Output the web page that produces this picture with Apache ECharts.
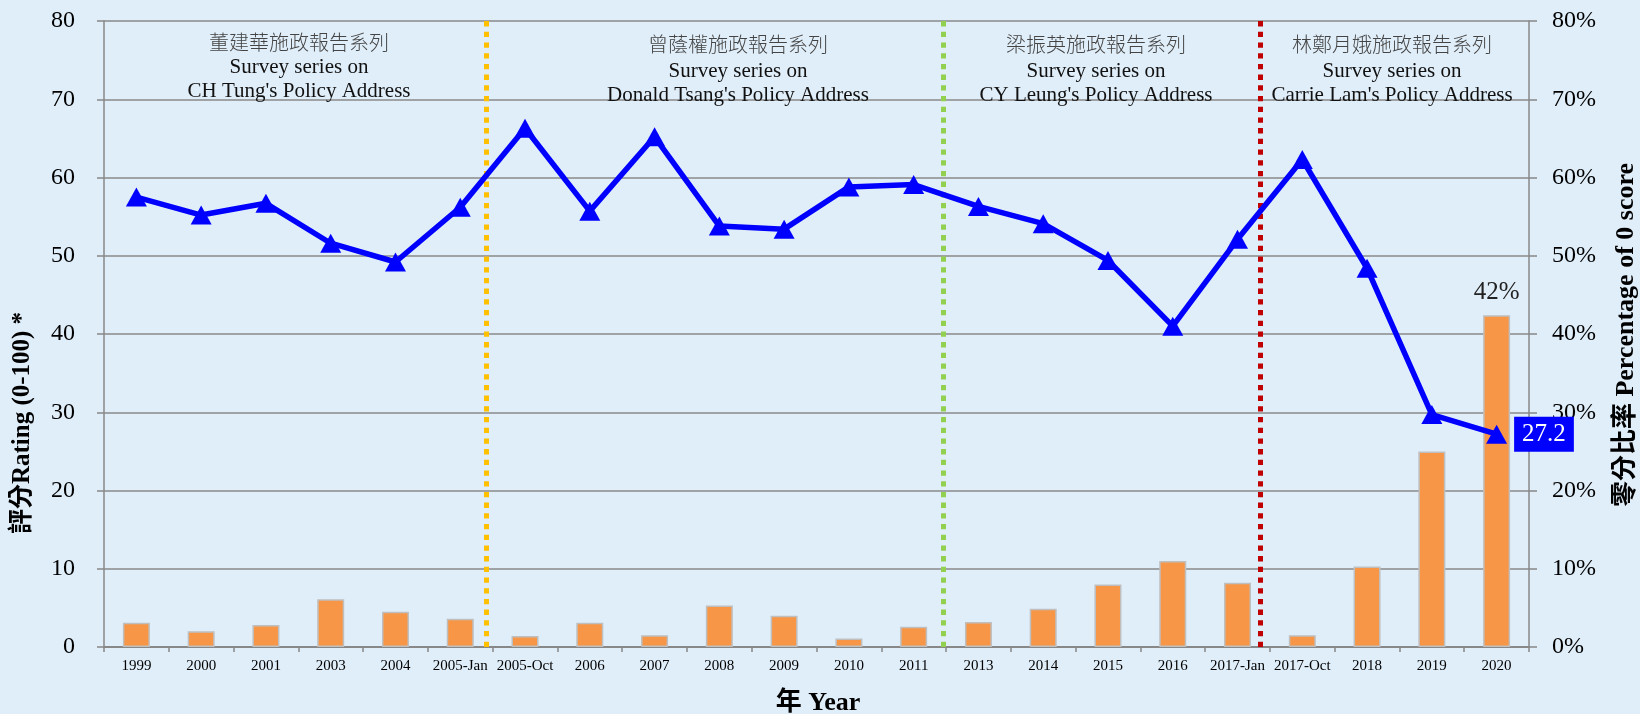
<!DOCTYPE html>
<html>
<head>
<meta charset="utf-8">
<script src="https://cdn.jsdelivr.net/npm/echarts@6/dist/echarts.min.js"></script>
<style>
html,body{margin:0;padding:0;background:#E0EEF9;}
#chart{width:1640px;height:714px;}
</style>
</head>
<body>
<div id="chart"></div>
<script>
const categories = ['1999','2000','2001','2003','2004','2005-Jan','2005-Oct','2006','2007','2008','2009','2010','2011','2013','2014','2015','2016','2017-Jan','2017-Oct','2018','2019','2020'];
const ratings = [57.5,55.2,56.7,51.6,49.2,56.2,66.3,55.7,65.2,53.8,53.4,58.8,59.1,56.3,54.1,49.4,41.0,52.1,62.3,48.4,29.7,27.2];
const zeroScorePct = [3.1,2.0,2.8,6.1,4.5,3.6,1.4,3.1,1.5,5.3,4.0,1.1,2.6,3.2,4.9,8.0,11.0,8.2,1.5,10.3,25.0,42.4];
const leftTicks = [0,10,20,30,40,50,60,70,80];
const rightTicks = ['0%','10%','20%','30%','40%','50%','60%','70%','80%'];
const seriesTitlesZh = ['董建華施政報告系列','曾蔭權施政報告系列','梁振英施政報告系列','林鄭月娥施政報告系列'];
const seriesTitlesEn = ["CH Tung's Policy Address","Donald Tsang's Policy Address","CY Leung's Policy Address","Carrie Lam's Policy Address"];
const dividerPositions = [5.9, 12.95, 17.85];
const dividerColors = ['#FFC000','#92D050','#C00000'];

const FONT = "'Liberation Serif','Times New Roman','Noto Sans CJK TC',serif";
const chart = echarts.init(document.getElementById('chart'));

const headerX = [299, 738, 1096, 1392];
const headerZhY = [45, 47, 47, 47];
const headerEnY = [79.5, 83, 83, 83];
const graphics = [];
seriesTitlesZh.forEach((zh, i) => {
  graphics.push({
    type: 'text', x: headerX[i], y: headerZhY[i], z: 50,
    style: {text: zh, font: "300 20px " + FONT, fill: '#444444', align: 'center', verticalAlign: 'middle'}
  });
  graphics.push({
    type: 'text', x: headerX[i], y: headerEnY[i], z: 50,
    style: {text: 'Survey series on\n' + seriesTitlesEn[i], font: "21px " + FONT, lineHeight: 24,
      fill: '#111111', align: 'center', verticalAlign: 'middle'}
  });
});
graphics.push({
  type: 'text', x: 23, y: 423, rotation: Math.PI/2, z: 50,
  style: {text: '評分Rating (0-100) *', font: "bold 25px " + FONT, fill: '#000', align: 'center', verticalAlign: 'middle'}
});
graphics.push({
  type: 'text', x: 1626, y: 335, rotation: Math.PI/2, z: 50,
  style: {text: '零分比率 Percentage of 0 score', font: "bold 26px " + FONT, fill: '#000', align: 'center', verticalAlign: 'middle'}
});
graphics.push({
  type: 'text', x: 818, y: 703, z: 50,
  style: {text: '年 Year', font: "bold 26px " + FONT, fill: '#000', align: 'center', verticalAlign: 'middle'}
});

const option = {
  backgroundColor: '#E0EEF9',
  animation: false,
  textStyle: {fontFamily: FONT},
  grid: {left: 104, right: 111, top: 21, bottom: 67, containLabel: false},
  xAxis: [{
    type: 'category', data: categories,
    axisLine: {show: true, lineStyle: {color: '#888888', width: 2}},
    axisTick: {show: true, length: 5, lineStyle: {color: '#888888', width: 1.5}},
    axisLabel: {fontFamily: FONT, fontSize: 15, color: '#000', margin: 12, interval: 0},
    splitLine: {show: false}
  }, {
    type: 'value', min: 0, max: categories.length, show: false,
    splitLine: {show: false}
  }],
  yAxis: [{
    type: 'value', min: 0, max: 80, interval: 10,
    axisLine: {show: true, lineStyle: {color: '#888888', width: 1.5}},
    axisTick: {show: true, length: 7, lineStyle: {color: '#888888', width: 1.5}},
    axisLabel: {fontFamily: FONT, fontSize: 24, color: '#000', margin: 29,
      formatter: v => String(leftTicks[Math.round(v/10)])},
    splitLine: {show: true, lineStyle: {color: '#8A8A8A', width: 1.5}}
  }, {
    type: 'value', min: 0, max: 80, interval: 10, position: 'right',
    axisLine: {show: true, lineStyle: {color: '#888888', width: 1.5}},
    axisTick: {show: true, length: 8, lineStyle: {color: '#888888', width: 1.5}},
    axisLabel: {fontFamily: FONT, fontSize: 24, color: '#000', margin: 23,
      formatter: v => rightTicks[Math.round(v/10)]},
    splitLine: {show: false}
  }],
  graphic: graphics,
  series: [{
    name: '零分比率', type: 'bar', xAxisIndex: 0, yAxisIndex: 1, z: 2,
    barWidth: 27,
    data: zeroScorePct.map((v, i) => i === zeroScorePct.length - 1 ? {
      value: v,
      label: {show: true, position: 'top', distance: 10, fontFamily: FONT, fontSize: 25, color: '#222',
        formatter: p => Math.round(p.value) + '%'}
    } : v),
    itemStyle: {color: '#F79646', borderColor: '#BFBFBF', borderWidth: 1.5}
  }, {
    name: '評分', type: 'line', xAxisIndex: 0, yAxisIndex: 0, z: 5,
    data: ratings.map((v, i) => i === ratings.length - 1 ? {
      value: v,
      label: {show: true, position: 'right', distance: 7, fontFamily: FONT, fontSize: 25,
        color: '#fff', backgroundColor: '#0000FF', padding: [6, 8, 4, 8],
        formatter: p => p.value.toFixed(1)}
    } : v),
    symbol: 'triangle', symbolSize: [21, 19],
    lineStyle: {color: '#0000FF', width: 5.5},
    itemStyle: {color: '#0000FF'}
  }, {
    name: 'dividers', type: 'line', xAxisIndex: 1, yAxisIndex: 0, z: 8,
    data: [], silent: true,
    markLine: {
      silent: true, symbol: 'none', label: {show: false},
      data: dividerPositions.map((x, i) => ({
        xAxis: x,
        lineStyle: {color: dividerColors[i], width: 5, type: [5.3, 5.4], cap: 'butt'}
      }))
    }
  }]
};
chart.setOption(option);
</script>
</body>
</html>
